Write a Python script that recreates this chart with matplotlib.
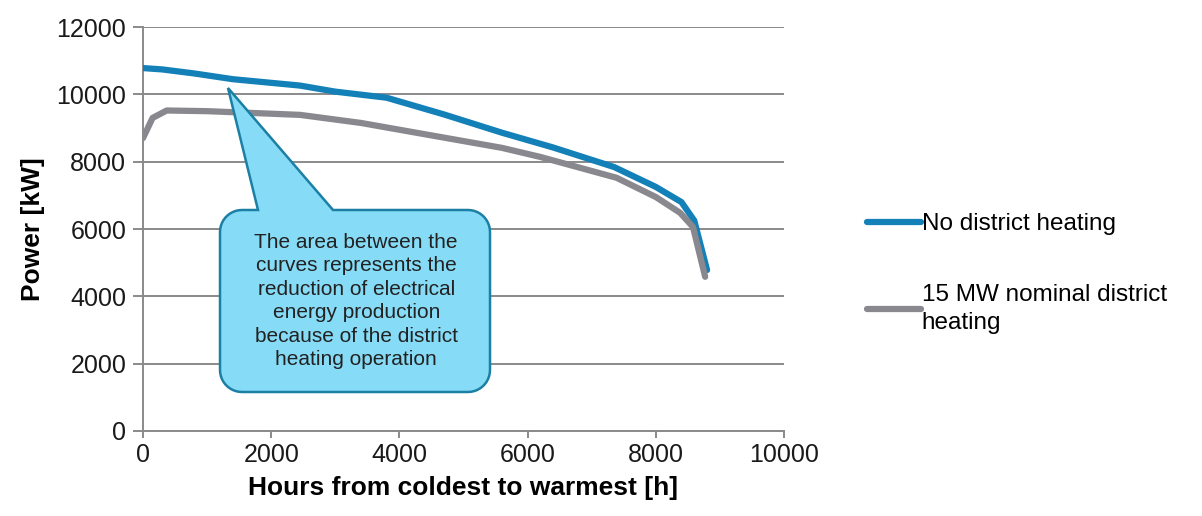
import numpy as np
import matplotlib.pyplot as plt
from matplotlib.path import Path
from matplotlib.patches import PathPatch

plt.rcParams['font.family'] = ['Liberation Sans', 'DejaVu Sans']

# Power curves
hours_no_dh = [0, 300, 800, 1400, 2450, 3000, 3800, 4700, 5600, 6400, 7350, 8000, 8400, 8600, 8800]
power_no_dh = [10780, 10740, 10620, 10450, 10260, 10080, 9900, 9400, 8860, 8420, 7840, 7250, 6800, 6250, 4780]

hours_dh = [0, 150, 370, 1000, 2450, 3400, 4500, 5600, 6200, 7390, 8000, 8380, 8580, 8770]
power_dh = [8700, 9300, 9520, 9500, 9390, 9150, 8780, 8410, 8140, 7520, 6950, 6480, 6060, 4580]

labels = ['No district heating', '15 MW nominal district\nheating']
note = ('The area between the\ncurves represents the\nreduction of electrical\n'
        'energy production\nbecause of the district\nheating operation')

W, H = 1202, 516
fig = plt.figure(figsize=(W / 100, H / 100), dpi=100)
ax = fig.add_axes([143 / W, 1 - 431 / H, (784 - 143) / W, (431 - 27) / H])

blue = '#1380b8'
grey = '#88888e'
ax.plot(hours_no_dh, power_no_dh, color=blue, lw=4.5, solid_capstyle='round',
        solid_joinstyle='round', label=labels[0], zorder=3)
ax.plot(hours_dh, power_dh, color=grey, lw=4.5, solid_capstyle='round',
        solid_joinstyle='round', label=labels[1], zorder=3)

ax.set_xlim(0, 10000)
ax.set_ylim(0, 12000)
ax.set_xticks(np.arange(0, 10001, 2000))
ax.set_yticks(np.arange(0, 12001, 2000))
ax.grid(axis='y', color='#8a8a8a', lw=1.4)
ax.set_axisbelow(True)
for s in ['top', 'right']:
    ax.spines[s].set_visible(False)
for s in ['left', 'bottom']:
    ax.spines[s].set_color('#8a8a8a')
    ax.spines[s].set_linewidth(1.4)
ax.tick_params(axis='y', length=7, width=1.4, color='#8a8a8a', labelsize=18, pad=5,
               labelcolor='#1a1a1a')
ax.tick_params(axis='x', length=5, width=1.4, color='#8a8a8a', labelsize=18, pad=4,
               labelcolor='#1a1a1a')
ax.set_xlabel('Hours from coldest to warmest [h]', fontsize=19, fontweight='bold', labelpad=6)
ax.set_ylabel('Power [kW]', fontsize=19, fontweight='bold', labelpad=8)

leg = fig.legend(loc='upper left', bbox_to_anchor=(855 / W, 1 - 201 / H), frameon=False,
                 fontsize=17.5, handlelength=2.2, handletextpad=0.05, labelspacing=2.0,
                 borderpad=0)
leg.get_texts()[1].set_linespacing(1.35)

# callout bubble, built in image pixels
L, R, T, B, r = 220, 490, 210, 392, 22
tip = (228, 88)
b0, b1 = 258, 333

def arc(cx, cy, a0, a1):
    a = np.radians(np.linspace(a0, a1, 12))
    return [(cx + r * np.cos(t), cy - r * np.sin(t)) for t in a]

pts = [(b1, T), (R - r, T)]
pts += arc(R - r, T + r, 90, 0)
pts += [(R, B - r)]
pts += arc(R - r, B - r, 0, -90)
pts += [(L + r, B)]
pts += arc(L + r, B - r, -90, -180)
pts += [(L, T + r)]
pts += arc(L + r, T + r, 180, 90)
pts += [(b0, T), tip, (b1, T)]
verts = [(x / W, 1 - y / H) for x, y in pts]
bubble = PathPatch(Path(verts, closed=True), transform=fig.transFigure,
                   facecolor='#86dcf7', edgecolor='#1c7fa4', lw=1.8, zorder=5)
fig.add_artist(bubble)
fig.text((L + R) / 2 / W + 0.001, 1 - 301 / H, note, ha='center', va='center',
         fontsize=15, color='#222222', linespacing=1.3, zorder=6)

fig.savefig('out.png', dpi=100)
